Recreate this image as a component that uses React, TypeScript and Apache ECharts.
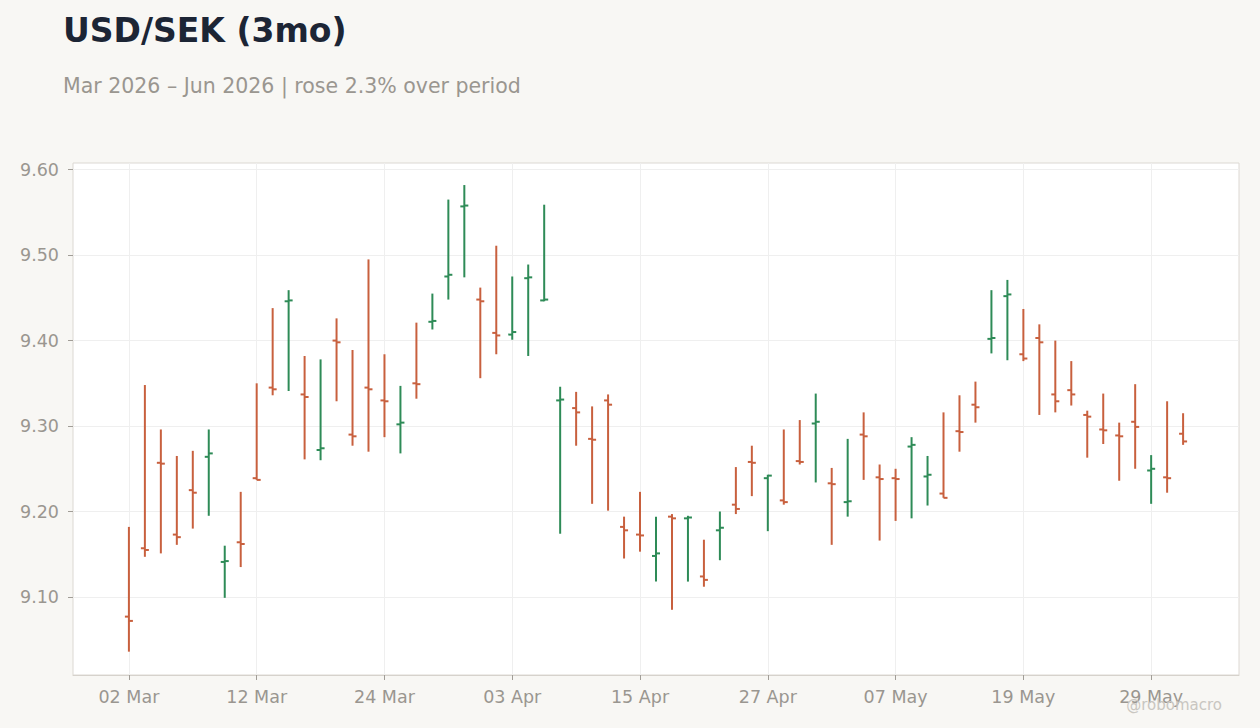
import React, { useEffect, useRef } from 'react'
import * as echarts from 'echarts'

// business days, Mar 2 – Jun 2 2026
const dates = [
    '2026-03-02', '2026-03-03', '2026-03-04', '2026-03-05', '2026-03-06',
    '2026-03-09', '2026-03-10', '2026-03-11', '2026-03-12', '2026-03-13',
    '2026-03-16', '2026-03-17', '2026-03-18', '2026-03-19', '2026-03-20',
    '2026-03-23', '2026-03-24', '2026-03-25', '2026-03-26', '2026-03-27',
    '2026-03-30', '2026-03-31', '2026-04-01', '2026-04-02', '2026-04-03',
    '2026-04-06', '2026-04-07', '2026-04-08', '2026-04-09', '2026-04-10',
    '2026-04-13', '2026-04-14', '2026-04-15', '2026-04-16', '2026-04-17',
    '2026-04-20', '2026-04-21', '2026-04-22', '2026-04-23', '2026-04-24',
    '2026-04-27', '2026-04-28', '2026-04-29', '2026-04-30', '2026-05-01',
    '2026-05-04', '2026-05-05', '2026-05-06', '2026-05-07', '2026-05-08',
    '2026-05-11', '2026-05-12', '2026-05-13', '2026-05-14', '2026-05-15',
    '2026-05-18', '2026-05-19', '2026-05-20', '2026-05-21', '2026-05-22',
    '2026-05-25', '2026-05-26', '2026-05-27', '2026-05-28', '2026-05-29',
    '2026-06-01', '2026-06-02',
]

const opens = [
    9.077, 9.157, 9.257, 9.173, 9.225, 9.264, 9.141, 9.164, 9.239, 9.345,
    9.446, 9.337, 9.272, 9.400, 9.290, 9.345, 9.330, 9.302, 9.350, 9.422,
    9.475, 9.557, 9.448, 9.409, 9.407, 9.473, 9.447, 9.330, 9.321, 9.285,
    9.330, 9.182, 9.173, 9.148, 9.194, 9.192, 9.124, 9.178, 9.208, 9.258,
    9.239, 9.213, 9.259, 9.303, 9.233, 9.211, 9.290, 9.240, 9.239, 9.276,
    9.241, 9.221, 9.294, 9.325, 9.402, 9.452, 9.384, 9.403, 9.337, 9.342,
    9.313, 9.296, 9.289, 9.305, 9.248, 9.240, 9.291,
]
const closes = [
    9.072, 9.155, 9.256, 9.170, 9.222, 9.268, 9.142, 9.162, 9.237, 9.343,
    9.447, 9.334, 9.274, 9.398, 9.288, 9.343, 9.329, 9.304, 9.349, 9.423,
    9.477, 9.558, 9.446, 9.406, 9.410, 9.474, 9.448, 9.331, 9.316, 9.284,
    9.325, 9.178, 9.172, 9.151, 9.192, 9.193, 9.120, 9.181, 9.203, 9.257,
    9.242, 9.211, 9.258, 9.305, 9.232, 9.212, 9.288, 9.238, 9.238, 9.278,
    9.243, 9.216, 9.293, 9.322, 9.403, 9.454, 9.379, 9.398, 9.329, 9.337,
    9.311, 9.295, 9.288, 9.299, 9.250, 9.239, 9.282,
]
const lows = [
    9.036, 9.147, 9.151, 9.161, 9.180, 9.195, 9.099, 9.135, 9.237, 9.336,
    9.341, 9.261, 9.260, 9.329, 9.277, 9.270, 9.287, 9.268, 9.332, 9.413,
    9.448, 9.474, 9.356, 9.384, 9.401, 9.382, 9.446, 9.174, 9.277, 9.209,
    9.201, 9.145, 9.153, 9.118, 9.085, 9.118, 9.112, 9.143, 9.197, 9.218,
    9.177, 9.208, 9.255, 9.234, 9.161, 9.194, 9.237, 9.166, 9.189, 9.192,
    9.207, 9.216, 9.270, 9.304, 9.385, 9.377, 9.376, 9.313, 9.316, 9.324,
    9.263, 9.279, 9.236, 9.250, 9.209, 9.222, 9.278,
]
const highs = [
    9.182, 9.348, 9.296, 9.265, 9.271, 9.296, 9.160, 9.223, 9.350, 9.438,
    9.459, 9.382, 9.378, 9.426, 9.389, 9.495, 9.384, 9.347, 9.421, 9.455,
    9.565, 9.582, 9.462, 9.511, 9.475, 9.489, 9.559, 9.346, 9.340, 9.323,
    9.337, 9.194, 9.223, 9.194, 9.197, 9.195, 9.167, 9.200, 9.252, 9.277,
    9.243, 9.296, 9.307, 9.338, 9.251, 9.285, 9.316, 9.255, 9.250, 9.287,
    9.265, 9.316, 9.336, 9.352, 9.459, 9.471, 9.437, 9.419, 9.400, 9.376,
    9.318, 9.338, 9.304, 9.349, 9.266, 9.329, 9.315,
]

const xTickIdx = [0, 8, 16, 24, 32, 40, 48, 56, 64]
const yTicks = [9.1, 9.2, 9.3, 9.4, 9.5, 9.6]

const MONTHS = ['Jan', 'Feb', 'Mar', 'Apr', 'May', 'Jun', 'Jul', 'Aug', 'Sep', 'Oct', 'Nov', 'Dec']
const UP = '#2e8b57'
const DOWN = '#c8603e'
const FONT = '"DejaVu Sans", sans-serif'

const fmtDate = (s: string) => {
    const [, m, d] = s.split('-')
    return `${d} ${MONTHS[parseInt(m, 10) - 1]}`
}

const App: React.FC = () => {
    const chartRef = useRef(null)

    useEffect(() => {
        document.body.style.margin = '0'
        const chart = echarts.init(chartRef.current, null, { renderer: 'svg' })

        const ohlc = dates.map((_, i) => [i, opens[i], closes[i], lows[i], highs[i]])

        const option = {
            animation: false,
            backgroundColor: '#f8f7f4',
            textStyle: { fontFamily: FONT },
            graphic: [
                {
                    type: 'text',
                    left: 63,
                    top: 14,
                    style: { text: 'USD/SEK (3mo)', font: `bold 33px ${FONT}`, fill: '#1c2535' },
                },
                {
                    type: 'text',
                    left: 63,
                    top: 75.5,
                    style: {
                        text: 'Mar 2026 \u2013 Jun 2026 | rose 2.3% over period',
                        font: `20.5px ${FONT}`,
                        fill: '#9a9690',
                    },
                },
                {
                    type: 'text',
                    right: 38,
                    top: 697,
                    z: 100,
                    style: { text: '@robomacro', font: `15px ${FONT}`, fill: '#c9c6c1' },
                },
            ],
            grid: {
                left: 73,
                right: 21,
                top: 163,
                bottom: 53,
                show: true,
                backgroundColor: '#ffffff',
                borderColor: '#dcd8d3',
                borderWidth: 1,
            },
            xAxis: {
                type: 'value',
                min: -3.5,
                max: 69.5,
                axisLine: { show: true, onZero: false, lineStyle: { color: '#d6d2cc' } },
                axisTick: {
                    show: true,
                    customValues: xTickIdx,
                    length: 5,
                    lineStyle: { color: '#a19d97' },
                },
                axisLabel: {
                    customValues: xTickIdx,
                    formatter: (v: number) => fmtDate(dates[Math.round(v)]),
                    color: '#9a9690',
                    fontSize: 17.5,
                    margin: 13,
                },
                splitLine: { show: true, lineStyle: { color: '#efefef', width: 1 } },
            },
            yAxis: {
                type: 'value',
                min: 9.0087,
                max: 9.6078,
                axisLine: { show: false, onZero: false },
                axisTick: {
                    show: true,
                    customValues: yTicks,
                    length: 5,
                    lineStyle: { color: '#a19d97' },
                },
                axisLabel: {
                    customValues: yTicks,
                    formatter: (v: number) => v.toFixed(2),
                    color: '#9a9690',
                    fontSize: 17.5,
                    margin: 14,
                },
                splitLine: { show: true, lineStyle: { color: '#efefef', width: 1 } },
            },
            series: [
                {
                    type: 'custom',
                    data: ohlc,
                    encode: { x: 0, y: [1, 2, 3, 4] },
                    renderItem: (params: any, api: any) => {
                        const x = api.value(0)
                        const o = api.value(1)
                        const c = api.value(2)
                        const pO = api.coord([x, o])
                        const pC = api.coord([x, c])
                        const pL = api.coord([x, api.value(3)])
                        const pH = api.coord([x, api.value(4)])
                        const color = c >= o ? UP : DOWN
                        const style = { stroke: color, lineWidth: 2 }
                        return {
                            type: 'group',
                            children: [
                                { type: 'line', shape: { x1: pH[0], y1: pH[1], x2: pL[0], y2: pL[1] }, style },
                                { type: 'line', shape: { x1: pO[0] - 4, y1: pO[1], x2: pO[0], y2: pO[1] }, style },
                                { type: 'line', shape: { x1: pC[0], y1: pC[1], x2: pC[0] + 4, y2: pC[1] }, style },
                            ],
                        }
                    },
                },
            ],
        }

        chart.setOption(option)

        return () => {
            chart.dispose()
        }
    }, [])

    return <div ref={chartRef} style={{ position: 'fixed', left: 0, top: 0, width: 1260, height: 728 }} />
}

export default App
